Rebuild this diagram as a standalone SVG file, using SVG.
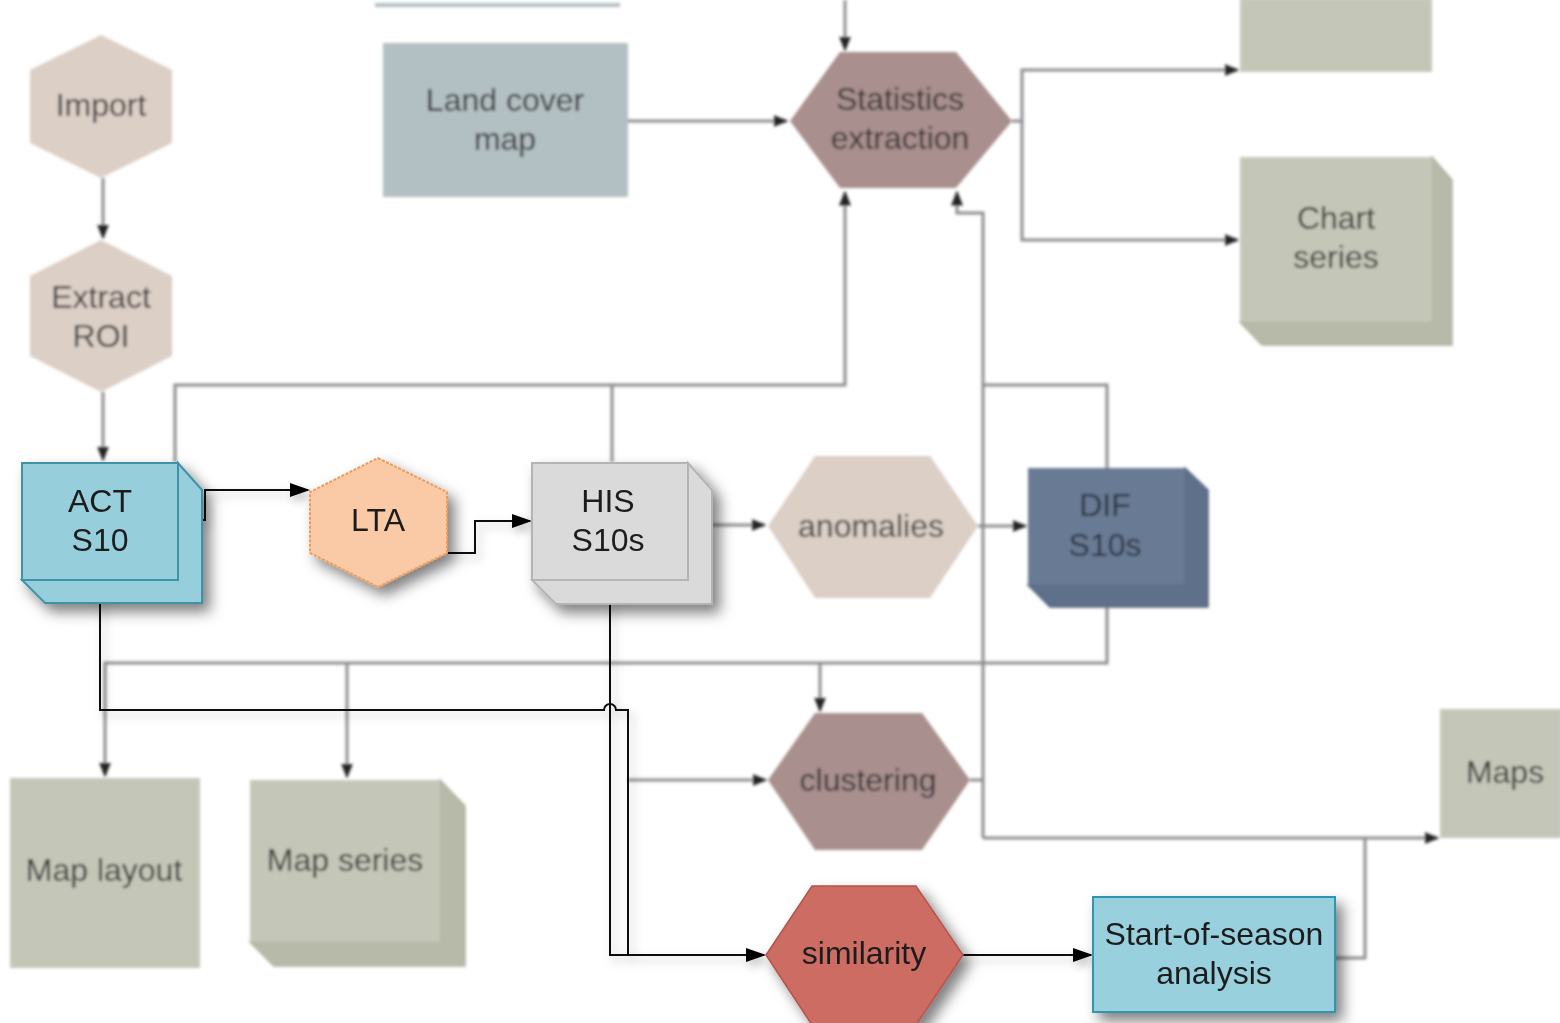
<svg xmlns="http://www.w3.org/2000/svg" width="1560" height="1023" viewBox="0 0 1560 1023">
  <defs>
    <style>
      text { font-family: "Liberation Sans", Arial, sans-serif; font-size: 32px; text-anchor: middle; }
      .bgt { fill: #333333; }
      .fgt { fill: #1e1e1e; }
      .gline { fill: none; stroke: #8c8c8c; stroke-width: 3; }
      .bline { fill: none; stroke: #111; stroke-width: 2; }
      .beige { fill: #dccfc6; }
      .mauve { fill: #a98f8e; }
      .olive { fill: #c4c7b8; }
      .olive-side { fill: #b7baa9; stroke: #aeb1a0; stroke-width: 1.5; }
    </style>
    <filter id="soft" x="-5%" y="-5%" width="110%" height="110%">
      <feGaussianBlur stdDeviation="1.7"/>
    </filter>
    <filter id="shadow" x="-30%" y="-30%" width="160%" height="160%">
      <feDropShadow dx="7" dy="8" stdDeviation="7" flood-color="#000" flood-opacity="0.5"/>
    </filter>
    <filter id="lineShadow" x="-10%" y="-10%" width="120%" height="120%">
      <feDropShadow dx="4" dy="5" stdDeviation="5" flood-color="#000" flood-opacity="0.25"/>
    </filter>
    <marker id="ga" viewBox="0 0 10 10" refX="9" refY="5" markerWidth="5" markerHeight="5" orient="auto" markerUnits="strokeWidth">
      <path d="M0,1 L10,5 L0,9 Z" fill="#222"/>
    </marker>
    <marker id="ba" viewBox="0 0 10 10" refX="9" refY="5" markerWidth="10" markerHeight="10" orient="auto" markerUnits="strokeWidth">
      <path d="M0,1.5 L10,5 L0,8.5 Z" fill="#000"/>
    </marker>
  </defs>

  <rect width="1560" height="1023" fill="#ffffff"/>

  <!-- faded context layer -->
  <g id="context" filter="url(#soft)">
    <g id="connectors-context">
      <path class="gline" d="M103,178 V238" marker-end="url(#ga)"/>
      <path class="gline" d="M103,392 V460" marker-end="url(#ga)"/>
      <path class="gline" d="M845,0 V50" marker-end="url(#ga)"/>
      <path class="gline" d="M628,121 H787" marker-end="url(#ga)"/>
      <path class="gline" d="M1012,121 H1022 V70 H1238" marker-end="url(#ga)"/>
      <path class="gline" d="M1022,121 V240 H1238" marker-end="url(#ga)"/>
      <path class="gline" d="M175,462 V385 H845 V192" marker-end="url(#ga)"/>
      <path class="gline" d="M612,462 V385"/>
      <path class="gline" d="M983,838 V213 H957 V192" marker-end="url(#ga)"/>
      <path class="gline" d="M1107,468 V385 H983"/>
      <path class="gline" d="M712,525 H765" marker-end="url(#ga)"/>
      <path class="gline" d="M978,526 H1026" marker-end="url(#ga)"/>
      <path class="gline" d="M1107,585 V663 H105 V776" marker-end="url(#ga)"/>
      <path class="gline" d="M347,663 V777" marker-end="url(#ga)"/>
      <path class="gline" d="M820,663 V711" marker-end="url(#ga)"/>
      <path class="gline" d="M628,780 H766" marker-end="url(#ga)"/>
      <path class="gline" d="M970,780 H983"/>
      <path class="gline" d="M983,838 H1438" marker-end="url(#ga)"/>
      <path class="gline" d="M1335,958 H1365 V838"/>
    </g>

    <g id="top-edge"><rect x="375" y="3" width="245" height="4" fill="#b2bfc3"/></g>

    <g id="import">
      <polygon class="beige" points="101,35 172,70 172,143 101,178 30,143 30,70"/>
      <text class="bgt" x="101" y="116">Import</text>
    </g>
    <g id="extract-roi">
      <polygon class="beige" points="101,240 172,276 172,356 101,392 30,356 30,276"/>
      <text class="bgt" x="101" y="308">Extract</text>
      <text class="bgt" x="101" y="347">ROI</text>
    </g>
    <g id="land-cover-map">
      <rect x="383" y="43" width="245" height="154" fill="#b2bfc3"/>
      <text class="bgt" x="505" y="111">Land cover</text>
      <text class="bgt" x="505" y="150">map</text>
    </g>
    <g id="statistics-extraction">
      <polygon class="mauve" points="790,121 840,52 956,52 1012,121 956,188 840,188"/>
      <text class="bgt" x="900" y="110">Statistics</text>
      <text class="bgt" x="900" y="149">extraction</text>
    </g>
    <g id="output-top">
      <rect class="olive" x="1240" y="-2" width="192" height="74"/>
    </g>
    <g id="chart-series">
      <polygon class="olive-side" points="1432,157 1452,180 1452,345 1262,345 1240,322 1432,322"/>
      <rect class="olive" x="1240" y="157" width="192" height="165"/>
      <text class="bgt" x="1336" y="229">Chart</text>
      <text class="bgt" x="1336" y="268">series</text>
    </g>
    <g id="anomalies">
      <polygon class="beige" points="768,526 815,456 930,456 978,526 930,598 815,598"/>
      <text class="bgt" x="871" y="537">anomalies</text>
    </g>
    <g id="dif-s10s">
      <polygon points="1185,468 1208,490 1208,607 1050,607 1028,585 1185,585" fill="#5f708a" stroke="#55657e" stroke-width="1.5"/>
      <rect x="1028" y="468" width="157" height="117" fill="#687a94"/>
      <text x="1105" y="516" fill="#2a2f3a">DIF</text>
      <text x="1105" y="556" fill="#2a2f3a">S10s</text>
    </g>
    <g id="map-layout">
      <rect class="olive" x="10" y="778" width="190" height="190"/>
      <text class="bgt" x="104" y="881">Map layout</text>
    </g>
    <g id="map-series">
      <polygon class="olive-side" points="440,780 465,806 465,966 274,966 250,942 440,942"/>
      <rect class="olive" x="250" y="780" width="190" height="162"/>
      <text class="bgt" x="345" y="871">Map series</text>
    </g>
    <g id="clustering">
      <polygon class="mauve" points="768,780 815,713 922,713 970,780 922,850 815,850"/>
      <text class="bgt" x="868" y="791">clustering</text>
    </g>
    <g id="maps">
      <rect class="olive" x="1440" y="709" width="122" height="129"/>
      <text class="bgt" x="1505" y="783">Maps</text>
    </g>
  </g>

  <!-- highlighted path -->
  <g id="connectors" filter="url(#lineShadow)">
    <path class="bline" d="M178,520 H205 V490 H308" marker-end="url(#ba)"/>
    <path class="bline" d="M447,553 H475 V521 H530" marker-end="url(#ba)"/>
    <path class="bline" d="M100,580 V710 H604 A6,6 0 0 1 616,710 H628 V955 H764" marker-end="url(#ba)"/>
    <path class="bline" d="M610,580 V955 H628"/>
    <path class="bline" d="M963,955 H1091" marker-end="url(#ba)"/>
  </g>

  <g id="act-s10" filter="url(#shadow)">
    <polygon points="178,463 202,490 202,603 45,603 22,580 178,580" fill="#96cedc" stroke="#3f92a8" stroke-width="2"/>
    <rect x="22" y="463" width="156" height="117" fill="#96cedc" stroke="#3f92a8" stroke-width="2"/>
    <text class="fgt" x="100" y="512">ACT</text>
    <text class="fgt" x="100" y="551">S10</text>
  </g>

  <g id="lta" filter="url(#shadow)">
    <polygon points="378,458 447,492 447,553 378,587 310,553 310,492" fill="#f9caa5" stroke="#f09a55" stroke-width="2" stroke-dasharray="3,1.5"/>
    <text class="fgt" x="378" y="531">LTA</text>
  </g>

  <g id="his-s10s" filter="url(#shadow)">
    <polygon points="688,463 712,490 712,604 556,604 532,580 688,580" fill="#dadada" stroke="#b4b4b4" stroke-width="2"/>
    <rect x="532" y="463" width="156" height="117" fill="#dadada" stroke="#b4b4b4" stroke-width="2"/>
    <text class="fgt" x="608" y="512">HIS</text>
    <text class="fgt" x="608" y="551">S10s</text>
  </g>

  <g id="similarity" filter="url(#shadow)">
    <polygon points="766,955 812,886 916,886 963,955 916,1025 812,1025" fill="#cc6c64" stroke="#b4534b" stroke-width="1.5"/>
    <text class="fgt" x="864" y="964">similarity</text>
  </g>

  <g id="start-of-season" filter="url(#shadow)">
    <rect x="1093" y="897" width="242" height="115" fill="#98d0de" stroke="#2f97b0" stroke-width="2"/>
    <text class="fgt" x="1214" y="945">Start-of-season</text>
    <text class="fgt" x="1214" y="984">analysis</text>
  </g>
</svg>
